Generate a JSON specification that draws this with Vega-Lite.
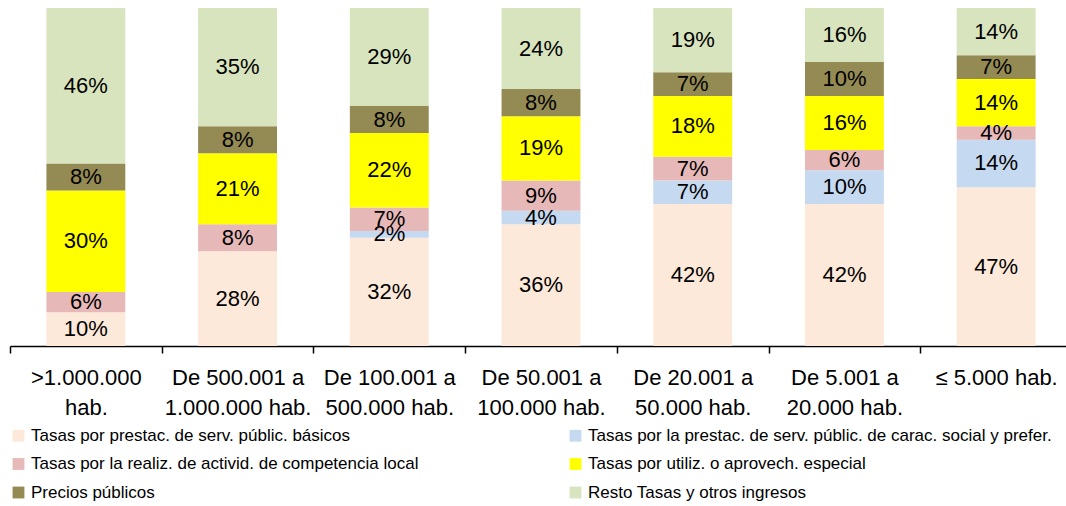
{
  "$schema": "https://vega.github.io/schema/vega-lite/v6.json",
  "width": 1056,
  "height": 338,
  "autosize": {"type": "none"},
  "padding": {"left": 10, "top": 8, "right": 0, "bottom": 160},
  "config": {"view": {"stroke": null}, "font": "Liberation Sans"},
  "data": {
    "values": [
      {"cat": ">1.000.000|hab.", "series": "Tasas por prestac. de serv. públic. básicos", "s": 1, "value": 0.10},
      {"cat": ">1.000.000|hab.", "series": "Tasas por la realiz. de activid. de competencia local", "s": 3, "value": 0.06},
      {"cat": ">1.000.000|hab.", "series": "Tasas por utiliz. o aprovech. especial", "s": 4, "value": 0.30},
      {"cat": ">1.000.000|hab.", "series": "Precios públicos", "s": 5, "value": 0.08},
      {"cat": ">1.000.000|hab.", "series": "Resto Tasas y otros ingresos", "s": 6, "value": 0.46},

      {"cat": "De 500.001 a|1.000.000 hab.", "series": "Tasas por prestac. de serv. públic. básicos", "s": 1, "value": 0.28},
      {"cat": "De 500.001 a|1.000.000 hab.", "series": "Tasas por la realiz. de activid. de competencia local", "s": 3, "value": 0.08},
      {"cat": "De 500.001 a|1.000.000 hab.", "series": "Tasas por utiliz. o aprovech. especial", "s": 4, "value": 0.21},
      {"cat": "De 500.001 a|1.000.000 hab.", "series": "Precios públicos", "s": 5, "value": 0.08},
      {"cat": "De 500.001 a|1.000.000 hab.", "series": "Resto Tasas y otros ingresos", "s": 6, "value": 0.35},

      {"cat": "De 100.001 a|500.000 hab.", "series": "Tasas por prestac. de serv. públic. básicos", "s": 1, "value": 0.32},
      {"cat": "De 100.001 a|500.000 hab.", "series": "Tasas por la prestac. de serv. públic. de carac. social y prefer.", "s": 2, "value": 0.02},
      {"cat": "De 100.001 a|500.000 hab.", "series": "Tasas por la realiz. de activid. de competencia local", "s": 3, "value": 0.07},
      {"cat": "De 100.001 a|500.000 hab.", "series": "Tasas por utiliz. o aprovech. especial", "s": 4, "value": 0.22},
      {"cat": "De 100.001 a|500.000 hab.", "series": "Precios públicos", "s": 5, "value": 0.08},
      {"cat": "De 100.001 a|500.000 hab.", "series": "Resto Tasas y otros ingresos", "s": 6, "value": 0.29},

      {"cat": "De 50.001 a|100.000 hab.", "series": "Tasas por prestac. de serv. públic. básicos", "s": 1, "value": 0.36},
      {"cat": "De 50.001 a|100.000 hab.", "series": "Tasas por la prestac. de serv. públic. de carac. social y prefer.", "s": 2, "value": 0.04},
      {"cat": "De 50.001 a|100.000 hab.", "series": "Tasas por la realiz. de activid. de competencia local", "s": 3, "value": 0.09},
      {"cat": "De 50.001 a|100.000 hab.", "series": "Tasas por utiliz. o aprovech. especial", "s": 4, "value": 0.19},
      {"cat": "De 50.001 a|100.000 hab.", "series": "Precios públicos", "s": 5, "value": 0.08},
      {"cat": "De 50.001 a|100.000 hab.", "series": "Resto Tasas y otros ingresos", "s": 6, "value": 0.24},

      {"cat": "De 20.001 a|50.000 hab.", "series": "Tasas por prestac. de serv. públic. básicos", "s": 1, "value": 0.42},
      {"cat": "De 20.001 a|50.000 hab.", "series": "Tasas por la prestac. de serv. públic. de carac. social y prefer.", "s": 2, "value": 0.07},
      {"cat": "De 20.001 a|50.000 hab.", "series": "Tasas por la realiz. de activid. de competencia local", "s": 3, "value": 0.07},
      {"cat": "De 20.001 a|50.000 hab.", "series": "Tasas por utiliz. o aprovech. especial", "s": 4, "value": 0.18},
      {"cat": "De 20.001 a|50.000 hab.", "series": "Precios públicos", "s": 5, "value": 0.07},
      {"cat": "De 20.001 a|50.000 hab.", "series": "Resto Tasas y otros ingresos", "s": 6, "value": 0.19},

      {"cat": "De 5.001 a|20.000 hab.", "series": "Tasas por prestac. de serv. públic. básicos", "s": 1, "value": 0.42},
      {"cat": "De 5.001 a|20.000 hab.", "series": "Tasas por la prestac. de serv. públic. de carac. social y prefer.", "s": 2, "value": 0.10},
      {"cat": "De 5.001 a|20.000 hab.", "series": "Tasas por la realiz. de activid. de competencia local", "s": 3, "value": 0.06},
      {"cat": "De 5.001 a|20.000 hab.", "series": "Tasas por utiliz. o aprovech. especial", "s": 4, "value": 0.16},
      {"cat": "De 5.001 a|20.000 hab.", "series": "Precios públicos", "s": 5, "value": 0.10},
      {"cat": "De 5.001 a|20.000 hab.", "series": "Resto Tasas y otros ingresos", "s": 6, "value": 0.16},

      {"cat": "≤ 5.000 hab.", "series": "Tasas por prestac. de serv. públic. básicos", "s": 1, "value": 0.47},
      {"cat": "≤ 5.000 hab.", "series": "Tasas por la prestac. de serv. públic. de carac. social y prefer.", "s": 2, "value": 0.14},
      {"cat": "≤ 5.000 hab.", "series": "Tasas por la realiz. de activid. de competencia local", "s": 3, "value": 0.04},
      {"cat": "≤ 5.000 hab.", "series": "Tasas por utiliz. o aprovech. especial", "s": 4, "value": 0.14},
      {"cat": "≤ 5.000 hab.", "series": "Precios públicos", "s": 5, "value": 0.07},
      {"cat": "≤ 5.000 hab.", "series": "Resto Tasas y otros ingresos", "s": 6, "value": 0.14}
    ]
  },
  "encoding": {
    "x": {
      "field": "cat",
      "type": "nominal",
      "sort": null,
      "scale": {"range": [0, 1062], "paddingInner": 0, "paddingOuter": 0},
      "axis": {
        "title": null,
        "labelExpr": "split(datum.label, '|')",
        "labelAngle": 0,
        "labelFont": "Liberation Sans",
        "labelFontSize": 22,
        "labelColor": "#000000",
        "labelLineHeight": 30,
        "labelBaseline": "top",
        "labelPadding": 14,
        "labelLimit": 200,
        "tickBand": "extent",
        "tickSize": 7,
        "tickColor": "#000000",
        "domainColor": "#000000",
        "tickWidth": 1.5,
        "domainWidth": 1.5
      }
    }
  },
  "layer": [
    {
      "mark": {"type": "bar", "width": {"band": 0.52}},
      "encoding": {
        "y": {"field": "value", "type": "quantitative", "stack": "zero", "scale": {"domain": [0, 1], "nice": false}, "axis": null},
        "order": {"field": "s", "type": "quantitative"},
        "color": {
          "field": "series",
          "type": "nominal",
          "sort": null,
          "scale": {
            "domain": [
              "Tasas por prestac. de serv. públic. básicos",
              "Tasas por la prestac. de serv. públic. de carac. social y prefer.",
              "Tasas por la realiz. de activid. de competencia local",
              "Tasas por utiliz. o aprovech. especial",
              "Precios públicos",
              "Resto Tasas y otros ingresos"
            ],
            "range": ["#FDE9D9", "#C5D9F1", "#E6B9B8", "#FFFF00", "#948A54", "#D7E4BD"]
          },
          "legend": {
            "title": null,
            "orient": "none",
            "direction": "horizontal",
            "legendX": 0,
            "legendY": 419,
            "columns": 2,
            "columnPadding": 148,
            "rowPadding": 10.5,
            "symbolType": "square",
            "symbolSize": 140,
            "symbolStrokeWidth": 0,
            "labelFont": "Liberation Sans",
            "labelFontSize": 17,
            "labelColor": "#000000",
            "labelOffset": 4,
            "labelLimit": 600
          }
        }
      }
    },
    {
      "mark": {"type": "text", "font": "Liberation Sans", "fontSize": 22, "color": "#000000", "baseline": "middle"},
      "encoding": {
        "y": {"field": "value", "type": "quantitative", "stack": "zero", "bandPosition": 0.5},
        "order": {"field": "s", "type": "quantitative"},
        "detail": {"field": "series"},
        "text": {"field": "value", "type": "quantitative", "format": ".0%"}
      }
    }
  ]
}
